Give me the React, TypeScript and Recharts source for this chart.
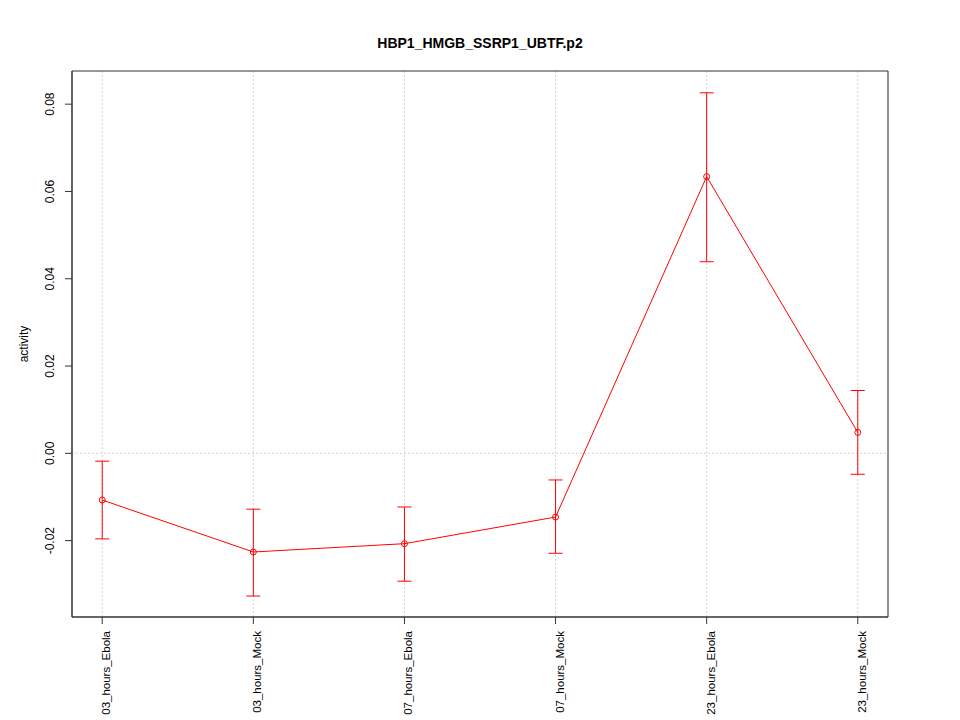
import React from "react";
import {
  ComposedChart,
  Line,
  ErrorBar,
  XAxis,
  YAxis,
  CartesianGrid,
  ReferenceLine,
  ReferenceArea,
} from "recharts";

const categories = [
  "03_hours_Ebola",
  "03_hours_Mock",
  "07_hours_Ebola",
  "07_hours_Mock",
  "23_hours_Ebola",
  "23_hours_Mock",
];
const means = [-0.0107, -0.0226, -0.0207, -0.0146, 0.0634, 0.0048];
const lower = [-0.0196, -0.0327, -0.0293, -0.0229, 0.0439, -0.0048];
const upper = [-0.0018, -0.0128, -0.0123, -0.0061, 0.0826, 0.0144];
const yTicks = [-0.02, 0, 0.02, 0.04, 0.06, 0.08];
const xTicks = [0, 1, 2, 3, 4, 5];

const xDomain = [-0.2, 5.2];
const yDomain = [-0.0375, 0.0876];

const data = categories.map((name, i) => ({
  idx: i,
  name,
  mean: means[i],
  err: [means[i] - lower[i], upper[i] - means[i]],
}));

const font = "'Liberation Sans', Arial, Helvetica, sans-serif";

const YTick = ({ y, payload }: any) => (
  <text
    x={54}
    y={y}
    transform={`rotate(-90 54 ${y})`}
    textAnchor="middle"
    fontSize={12}
    fontFamily={font}
    fill="#000"
  >
    {payload.value.toFixed(2)}
  </text>
);

const XTick = ({ x, payload }: any) => (
  <text
    x={x + 4}
    y={631}
    transform={`rotate(-90 ${x + 4} 631)`}
    textAnchor="end"
    dominantBaseline="central"
    fontSize={11.5}
    fontFamily={font}
    fill="#000"
  >
    {categories[payload.value]}
  </text>
);

const App = () => {
  return (
    <div style={{ position: "absolute", left: 0, top: 0, width: 960, height: 720, background: "#fff" }}>
      <div
        style={{
          position: "absolute",
          top: 35,
          left: 0,
          width: 960,
          textAlign: "center",
          fontFamily: font,
          fontWeight: "bold",
          fontSize: 14,
        }}
      >
        HBP1_HMGB_SSRP1_UBTF.p2
      </div>
      <ComposedChart
        width={960}
        height={720}
        data={data}
        margin={{ top: 71, right: 72, bottom: 0, left: 0 }}
      >
        <CartesianGrid horizontal={false} stroke="#d3d3d3" strokeDasharray="2 2" />
        <ReferenceLine y={0} stroke="#d3d3d3" strokeDasharray="2 2" />
        <ReferenceArea
          x1={xDomain[0]}
          x2={xDomain[1]}
          y1={yDomain[0]}
          y2={yDomain[1]}
          fill="none"
          stroke="#333"
          strokeWidth={1}
          fillOpacity={0}
        />
        <XAxis
          dataKey="idx"
          type="number"
          domain={xDomain}
          ticks={xTicks}
          interval={0}
          height={103}
          tick={<XTick />}
          tickSize={7}
          axisLine={{ stroke: "#333" }}
          tickLine={{ stroke: "#333" }}
        />
        <YAxis
          type="number"
          domain={yDomain}
          ticks={yTicks}
          width={72}
          tick={<YTick />}
          tickSize={7}
          axisLine={{ stroke: "#333" }}
          tickLine={{ stroke: "#333" }}
          label={{
            content: () => (
              <text
                x={28}
                y={344}
                transform="rotate(-90 28 344)"
                textAnchor="middle"
                fontSize={12}
                fontFamily={font}
                fill="#000"
              >
                activity
              </text>
            ),
          }}
        />
        <Line
          dataKey="mean"
          stroke="#ff0000"
          strokeWidth={1}
          isAnimationActive={false}
          dot={{ r: 3, stroke: "#ff0000", fill: "none", strokeWidth: 1 }}
          activeDot={false}
        >
          <ErrorBar dataKey="err" width={7} stroke="#ff0000" strokeWidth={1} direction="y" />
        </Line>
      </ComposedChart>
    </div>
  );
};

export default App;
